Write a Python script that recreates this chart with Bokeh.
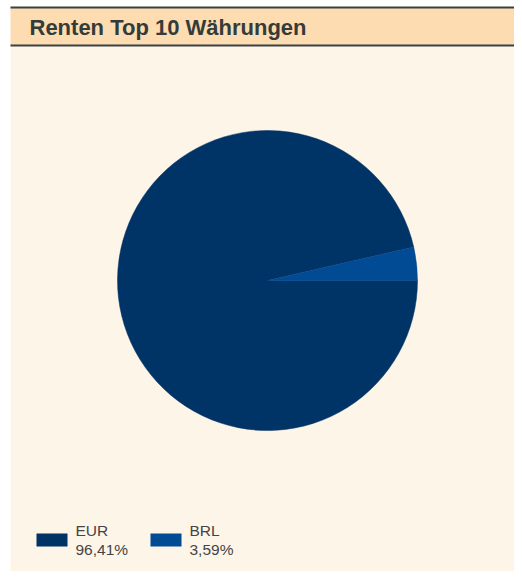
import math
from bokeh.plotting import figure
from bokeh.models import Range1d, ColumnDataSource
from bokeh.core.properties import value
from bokeh.embed import file_html
from bokeh.resources import INLINE

# ---- data ----
title_text = "Renten Top 10 Währungen"
categories = ["EUR", "BRL"]
shares = [96.41, 3.59]
colors = ["#003366", "#004b93"]

# ---- layout (figure pixel coordinates, y measured from top) ----
W, H = 514, 571


def fy(py):
    return H - py


p = figure(width=W, height=H, x_range=Range1d(0, W), y_range=Range1d(0, H),
           output_backend="svg", toolbar_location=None, min_border=0)
p.axis.visible = False
p.grid.visible = False
p.outline_line_color = None
p.background_fill_color = "white"
p.border_fill_color = "white"

# panel decorations
p.quad(left=10, right=W, top=fy(46), bottom=fy(H), fill_color="#fef5e9", line_color=None)
p.quad(left=10, right=W, top=fy(7), bottom=fy(45), fill_color="#fddcb1", line_color=None)
p.quad(left=10, right=W, top=fy(6), bottom=fy(8), fill_color="#3a4141", line_color=None)
p.quad(left=10, right=W, top=fy(44), bottom=fy(46), fill_color="#3a4141", line_color=None)

p.text(x=[29], y=[fy(27)], text=[title_text], text_font=value("Liberation Sans"),
       text_font_style="bold", text_font_size="22px", text_color="#333b3b",
       text_baseline="middle", text_align="left")

# ---- pie (clockwise from 3 o'clock) ----
total = sum(shares)
starts, ends = [], []
cum = 0.0
for s in shares:
    starts.append(-cum / total * 2 * math.pi)
    cum += s
    ends.append(-cum / total * 2 * math.pi)

src = ColumnDataSource(dict(start=starts, end=ends, color=colors, cat=categories))
p.wedge(x=267, y=fy(280), radius=150, start_angle="start", end_angle="end",
        direction="clock", fill_color="color", line_color="color", line_width=0.5, source=src)

# ---- legend ----
sw_left0, sw_step, sw_w, sw_h = 36, 114, 31, 13
lx = [sw_left0 + i * sw_step + sw_w / 2 for i in range(len(categories))]
tx = [sw_left0 + i * sw_step + 39 for i in range(len(categories))]
pct = [f"{v:.2f}".replace(".", ",") + "%" for v in shares]
p.rect(x=lx, y=[fy(539.5)] * len(lx), width=sw_w, height=sw_h, fill_color=colors, line_color=None)
p.text(x=tx, y=[fy(530)] * len(tx), text=categories, text_font=value("Liberation Sans"),
       text_font_size="15.5px", text_color="#444444", text_baseline="middle")
p.text(x=tx, y=[fy(548.5)] * len(tx), text=pct, text_font=value("Liberation Sans"),
       text_font_size="15.5px", text_color="#444444", text_baseline="middle")

open("out.html", "w").write(file_html(p, INLINE))
